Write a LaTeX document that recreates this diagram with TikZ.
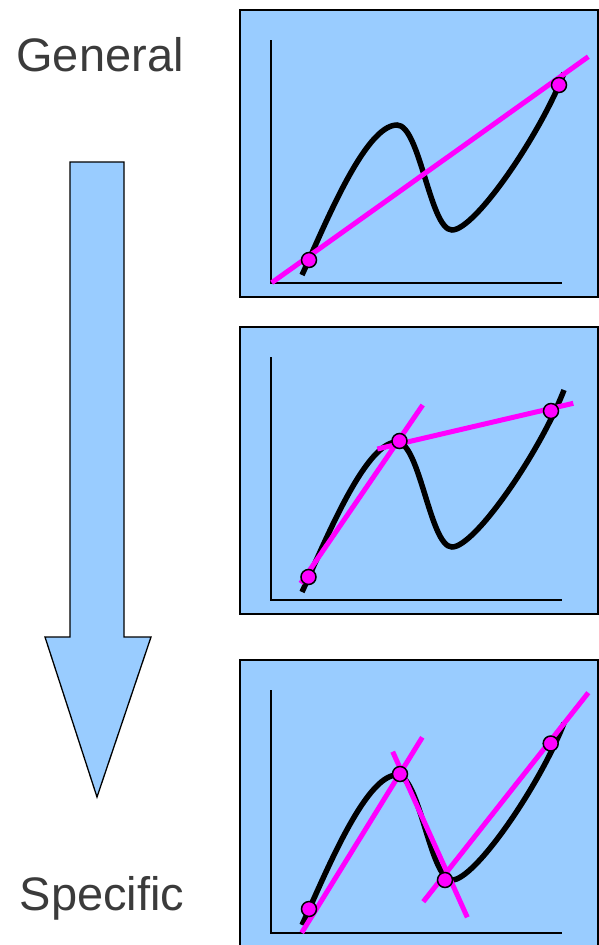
\documentclass[tikz,border=0pt]{standalone}
\usepackage{fontspec}
\setmainfont{Liberation Sans}
\definecolor{panelblue}{HTML}{99CCFF}
\definecolor{fitpink}{HTML}{FF00FF}
\definecolor{labelgray}{HTML}{3B3B3B}

\begin{document}
\begin{tikzpicture}[x=1pt, y=-1pt,
  panel/.style={fill=panelblue, draw=black, line width=2pt},
  axis/.style={line width=1.6pt},
  curve/.style={line width=5.5pt},
  fitline/.style={fitpink, line width=5pt},
  knot/.style={circle, fill=fitpink, draw=black, line width=1.5pt, inner sep=0pt, minimum size=15pt},
  lbl/.style={text=labelgray, font=\fontsize{47}{56}\selectfont}]
\useasboundingbox (0,0) rectangle (599,945);
% labels and the big arrow
\node[lbl] (gen) at (100,55) {General};
\node[lbl] (spec) at (102,898) {Specific};
\draw[fill=panelblue, line width=1.3pt] (70,162)--(124,162)--(124,637)--(151,637)--(97,797)--(45,637)--(70,637)--cycle;
% the three panels, same curve
\foreach \dy in {0,317,650}{
  \begin{scope}[shift={(0,\dy)}]
  \draw[panel] (240,10) rectangle (598,297);
  \draw[axis] (271,40)--(271,283)--(562,283);
  \draw[curve] (302,275) .. controls (325,225) and (365,125) .. (397,125)
    .. controls (420,125) and (430,230) .. (452,230)
    .. controls (475,230) and (540,135) .. (564,73);
  \end{scope}
}
% panel 1: one piece
\draw[fitline] (271.7,282.7)--(588.3,56.7);
\node[knot] (a1) at (309,260) {};
\node[knot] (b1) at (559,85) {};
% panel 2: two pieces
\draw[fitline] (300.7,583.3)--(422.7,405);
\draw[fitline] (377.3,449)--(573.3,403.3);
\node[knot] (a2) at (308.5,577) {};
\node[knot] (b2) at (399.5,441) {};
\node[knot] (c2) at (551,411) {};
% panel 3: three pieces
\draw[fitline] (301.7,932.7)--(422.3,737.3);
\draw[fitline] (392.7,751.7)--(467.3,917.3);
\draw[fitline] (423.3,901.7)--(588.3,692.7);
\node[knot] (a3) at (309,909) {};
\node[knot] (b3) at (400,774) {};
\node[knot] (c3) at (445,880) {};
\node[knot] (d3) at (550.7,743.5) {};
\end{tikzpicture}
\end{document}
